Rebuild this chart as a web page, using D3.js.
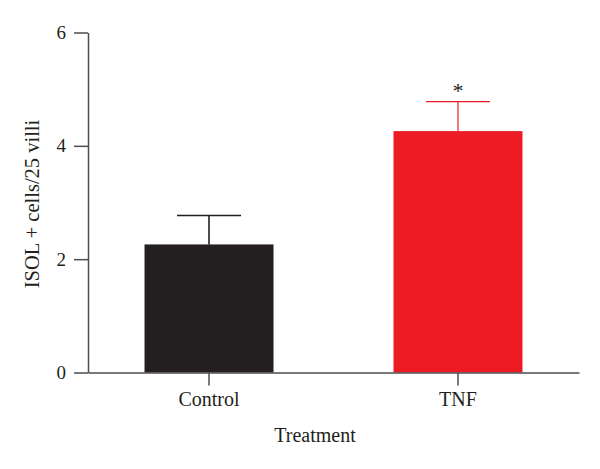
<!DOCTYPE html>
<html><head><meta charset="utf-8">
<script src="https://cdn.jsdelivr.net/npm/d3@7"></script>
<style>body{margin:0;background:#fff}</style>
</head><body>
<svg id="chart" width="600" height="469"></svg>
<script>
const categories = ["Control", "TNF"];
const values = [2.26, 4.26];
const errors = [0.51, 0.52];
const barColors = ["#231f20", "#ed1c24"];
const yTicks = [0, 2, 4, 6];
const significance = ["", "*"];

const svg = d3.select("#chart");
const font = "'Liberation Serif', 'Times New Roman', serif";
const y = d3.scaleLinear().domain([0, 6]).range([372.5, 32.5]);
const x = d3.scaleBand().domain(categories).range([88, 579]).paddingInner(0.482).paddingOuter(0.227);

// bars
svg.selectAll("rect.bar").data(categories).enter().append("rect")
  .attr("x", d => x(d)).attr("width", x.bandwidth())
  .attr("y", (d, i) => y(values[i])).attr("height", (d, i) => y(0) - y(values[i]))
  .attr("fill", (d, i) => barColors[i]);

// error bars
const capW = 64;
categories.forEach((c, i) => {
  const cx = x(c) + x.bandwidth() / 2;
  const g = svg.append("g").attr("stroke", barColors[i]).attr("stroke-width", i === 0 ? 1.6 : 1.2);
  g.append("line").attr("x1", cx).attr("x2", cx).attr("y1", y(values[i])).attr("y2", y(values[i] + errors[i]));
  g.append("line").attr("x1", cx - capW / 2).attr("x2", cx + capW / 2).attr("y1", y(values[i] + errors[i])).attr("y2", y(values[i] + errors[i]));
  if (significance[i]) {
    svg.append("text").attr("x", cx).attr("y", y(values[i] + errors[i]) - 4)
      .attr("text-anchor", "middle").attr("font-family", font).attr("font-size", 22)
      .attr("fill", "#231f20").text(significance[i]);
  }
});

// y axis
const yAxis = svg.append("g").attr("transform", "translate(88,0)")
  .call(d3.axisLeft(y).tickValues(yTicks).tickFormat(d3.format("d")).tickSize(14).tickPadding(8).tickSizeOuter(0));
yAxis.select(".domain").attr("stroke", "#4d4d4d").attr("stroke-width", 1.5);
yAxis.selectAll(".tick line").attr("stroke", "#4d4d4d").attr("stroke-width", 1.5);
yAxis.selectAll(".tick text").attr("font-family", font).attr("font-size", 19).attr("fill", "#231f20");

// x axis
const xAxis = svg.append("g").attr("transform", `translate(0,${y(0)})`)
  .call(d3.axisBottom(x).tickSize(13).tickPadding(6).tickSizeOuter(0));
xAxis.select(".domain").attr("stroke", "#4d4d4d").attr("stroke-width", 1.5);
xAxis.selectAll(".tick line").attr("stroke", "#4d4d4d").attr("stroke-width", 1.5);
xAxis.selectAll(".tick text").attr("font-family", font).attr("font-size", 20).attr("fill", "#231f20");

// titles
svg.append("text").attr("x", 315).attr("y", 442).attr("text-anchor", "middle")
  .attr("font-family", font).attr("font-size", 20).attr("fill", "#231f20").text("Treatment");
svg.append("text").attr("transform", "translate(39,204) rotate(-90)").attr("text-anchor", "middle")
  .attr("font-family", font).attr("font-size", 20.5).attr("fill", "#231f20").text("ISOL + cells/25 villi");
</script>
</body></html>
